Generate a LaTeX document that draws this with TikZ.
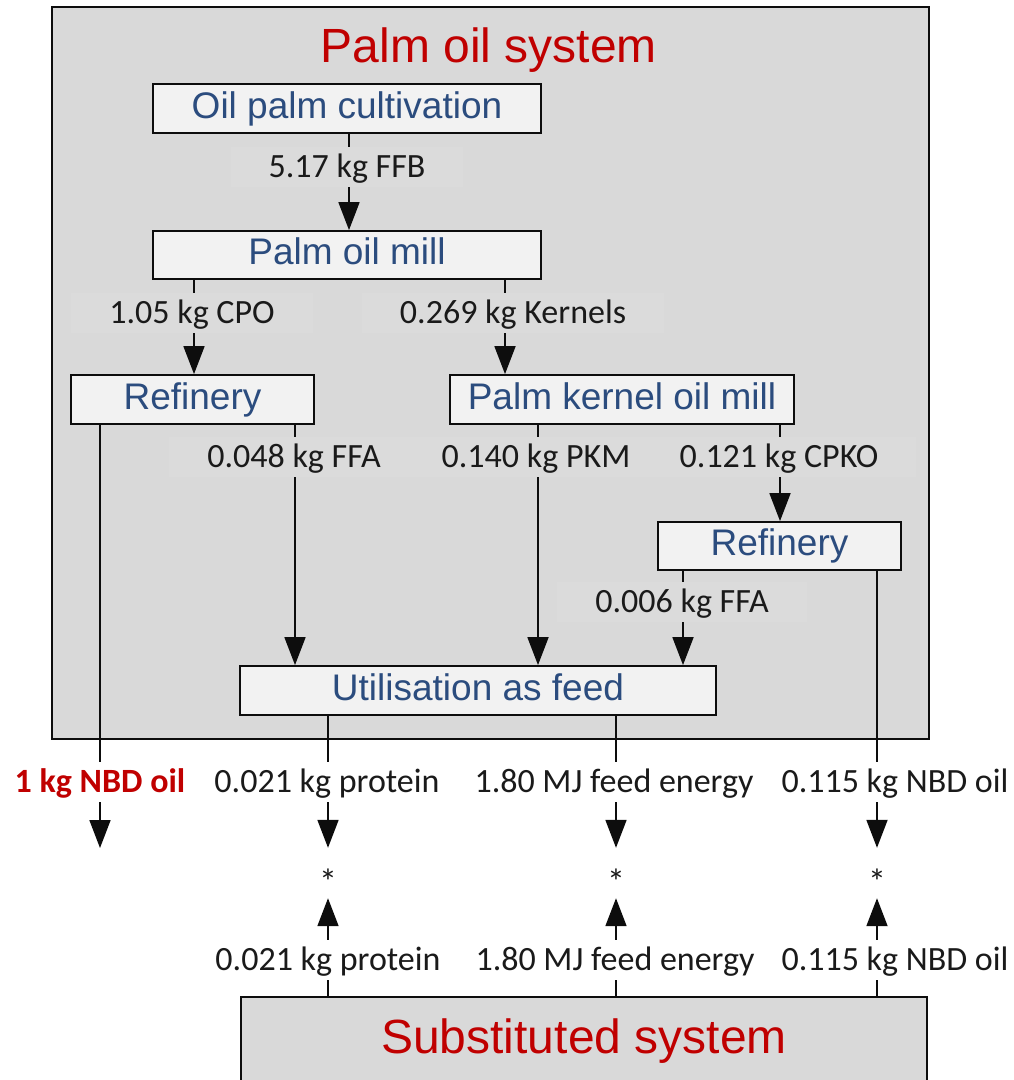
\documentclass[tikz,border=0pt]{standalone}
\usepackage{fontspec}
\setmainfont{Carlito}
\newfontfamily\boxfont{Liberation Sans}
\usetikzlibrary{arrows.meta}
\definecolor{sysgray}{HTML}{D9D9D9}
\definecolor{boxfill}{HTML}{F2F2F2}
\definecolor{bandgray}{HTML}{DBDBDB}
\definecolor{boxblue}{HTML}{2B4C7E}
\definecolor{titlered}{HTML}{C00000}
\definecolor{ink}{HTML}{1A1A1A}
\definecolor{linecol}{HTML}{0D0D0D}
\begin{document}
\begin{tikzpicture}[x=1pt,y=-1pt,
  lw/.style={line width=1.8pt, draw=linecol},
  procbox/.style={lw, fill=boxfill, inner sep=0pt, text height=27pt, text depth=8pt,
    font=\boxfont\fontsize{37}{44}\selectfont, text=boxblue},
  sysbox/.style={lw, fill=sysgray, inner sep=0pt},
  systitle/.style={anchor=base, font=\boxfont\fontsize{48}{56}\selectfont, text=titlered, inner sep=0pt},
  flow/.style={anchor=base, font=\fontsize{34}{40}\selectfont, text=ink, text height=26pt,
    text depth=6pt, inner ysep=4pt, inner xsep=20pt},
  inflow/.style={flow, fill=bandgray, inner xsep=38pt},
  outflow/.style={flow, fill=white},
  astnode/.style={minimum height=50pt, minimum width=10pt, inner sep=0pt,
    font=\fontsize{36}{40}\selectfont, text=ink},
  conn/.style={lw},
  arr/.style={lw, -{Triangle[length=28pt,width=21pt]}},
]
\useasboundingbox (0,0) rectangle (1014,1080);

% system boxes
\node[sysbox, minimum width=877pt, minimum height=732pt] (palm) at (490.5,373) {};
\node[systitle] (palmtitle) at (489,62) {Palm oil system};
\node[sysbox, minimum width=686pt, minimum height=112pt, anchor=north] (subst) at (584,996) {};
\node[systitle] (substtitle) at (584,1053) {Substituted system};

% process boxes
\node[procbox, minimum width=388pt, minimum height=49pt] (cult) at (347,108.5) {Oil palm cultivation};
\node[procbox, minimum width=388pt, minimum height=48pt] (mill) at (347,255) {Palm oil mill};
\node[procbox, minimum width=243pt, minimum height=49pt] (ref1) at (192.5,399.5) {Refinery};
\node[procbox, minimum width=344pt, minimum height=49pt] (pkom) at (622,399.5) {Palm kernel oil mill};
\node[procbox, minimum width=243pt, minimum height=48pt] (ref2) at (779.5,546) {Refinery};
\node[procbox, minimum width=476pt, minimum height=49pt] (util) at (478,690.5) {Utilisation as feed};

% flow labels inside
\node[inflow] (l1) at (347,177) {5.17 kg FFB};
\node[inflow] (l2) at (192,323) {1.05 kg CPO};
\node[inflow] (l3) at (513,323) {0.269 kg Kernels};
\node[inflow] (l4) at (294,467) {0.048 kg FFA};
\node[inflow] (l5) at (536,467) {0.140 kg PKM};
\node[inflow] (l6) at (779,467) {0.121 kg CPKO};
\node[inflow] (l7) at (682,612) {0.006 kg FFA};

% flow labels outside
\node[outflow, text=titlered, font=\bfseries\fontsize{34}{40}\selectfont] (l8) at (100,792) {1 kg NBD oil};
\node[outflow] (l9) at (327,792) {0.021 kg protein};
\node[outflow] (l10) at (614,792) {1.80 MJ feed energy};
\node[outflow] (l11) at (895,792) {0.115 kg NBD oil};
\node[outflow] (l12) at (328,970) {0.021 kg protein};
\node[outflow] (l13) at (615,970) {1.80 MJ feed energy};
\node[outflow] (l14) at (895,970) {0.115 kg NBD oil};

% asterisks
\node[astnode] (a1) at (328,873) {\raisebox{-21pt}[0pt][0pt]{*}};
\node[astnode] (a2) at (616,873) {\raisebox{-21pt}[0pt][0pt]{*}};
\node[astnode] (a3) at (877,873) {\raisebox{-21pt}[0pt][0pt]{*}};
\coordinate (nbdend) at (100,848);

% connector columns
\coordinate (xFFB) at (349,0);
\coordinate (xCPO) at (194,0);
\coordinate (xKer) at (505,0);
\coordinate (xNBD) at (100,0);
\coordinate (xFFAa) at (295,0);
\coordinate (xPKM) at (538,0);
\coordinate (xCPKO) at (780,0);
\coordinate (xFFAb) at (683,0);
\coordinate (xOil) at (877,0);
\coordinate (xProt) at (328,0);
\coordinate (xEn) at (616,0);

% connectors
\draw[conn] (cult.south -| xFFB) -- (l1.north -| xFFB);
\draw[arr] (l1.south -| xFFB) -- (mill.north -| xFFB);

\draw[conn] (mill.south -| xCPO) -- (l2.north -| xCPO);
\draw[arr] (l2.south -| xCPO) -- (ref1.north -| xCPO);
\draw[conn] (mill.south -| xKer) -- (l3.north -| xKer);
\draw[arr] (l3.south -| xKer) -- (pkom.north -| xKer);

\draw[conn] (ref1.south -| xNBD) -- (l8.north -| xNBD);
\draw[arr] (l8.south -| xNBD) -- (nbdend);

\draw[conn] (ref1.south -| xFFAa) -- (l4.north -| xFFAa);
\draw[arr] (l4.south -| xFFAa) -- (util.north -| xFFAa);
\draw[conn] (pkom.south -| xPKM) -- (l5.north -| xPKM);
\draw[arr] (l5.south -| xPKM) -- (util.north -| xPKM);
\draw[conn] (pkom.south -| xCPKO) -- (l6.north -| xCPKO);
\draw[arr] (l6.south -| xCPKO) -- (ref2.north -| xCPKO);
\draw[conn] (ref2.south -| xFFAb) -- (l7.north -| xFFAb);
\draw[arr] (l7.south -| xFFAb) -- (util.north -| xFFAb);

\draw[conn] (ref2.south -| xOil) -- (l11.north -| xOil);
\draw[arr] (l11.south -| xOil) -- (a3.north);
\draw[conn] (util.south -| xProt) -- (l9.north -| xProt);
\draw[arr] (l9.south -| xProt) -- (a1.north);
\draw[conn] (util.south -| xEn) -- (l10.north -| xEn);
\draw[arr] (l10.south -| xEn) -- (a2.north);

\draw[conn] (subst.north -| xProt) -- (l12.south -| xProt);
\draw[arr] (l12.north -| xProt) -- (a1.south);
\draw[conn] (subst.north -| xEn) -- (l13.south -| xEn);
\draw[arr] (l13.north -| xEn) -- (a2.south);
\draw[conn] (subst.north -| xOil) -- (l14.south -| xOil);
\draw[arr] (l14.north -| xOil) -- (a3.south);
\end{tikzpicture}
\end{document}
